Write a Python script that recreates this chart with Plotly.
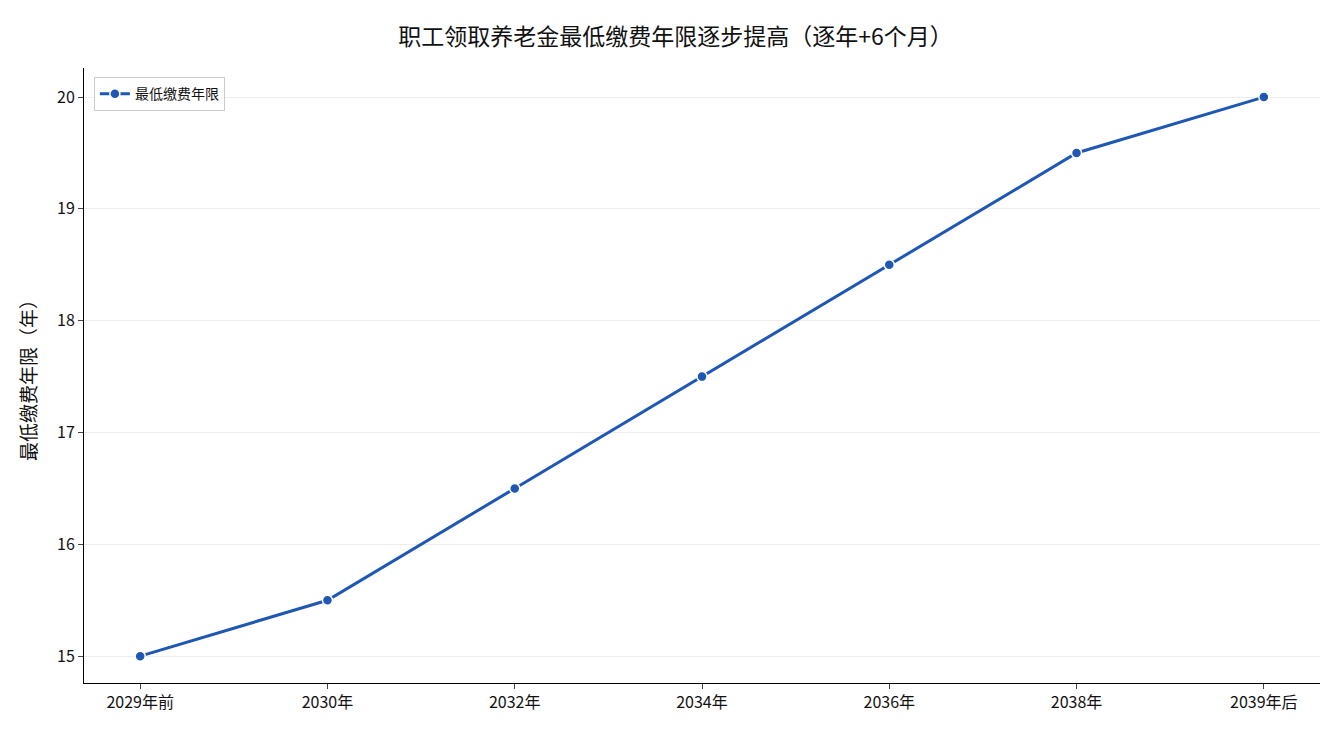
import plotly.graph_objects as go

years = ["2029年前", "2030年", "2032年", "2034年", "2036年", "2038年", "2039年后"]
min_years = [15, 15.5, 16.5, 17.5, 18.5, 19.5, 20]

fig = go.Figure()
fig.add_trace(go.Scatter(
    x=list(range(len(years))), y=min_years, mode="lines+markers", name="最低缴费年限",
    line=dict(color="#1f57b4", width=3),
    marker=dict(size=10, color="#1f57b4", line=dict(color="white", width=1.5)),
))
fig.update_layout(
    width=1335, height=735,
    font=dict(family="Noto Sans CJK SC", size=16, color="#111"),
    paper_bgcolor="white", plot_bgcolor="white",
    title=dict(text="职工领取养老金最低缴费年限逐步提高（逐年+6个月）", x=0.5, y=0.972,
               xanchor="center", font=dict(size=23)),
    margin=dict(l=76, r=23, t=60, b=60),
    showlegend=True,
    legend=dict(x=0.008, y=0.985, xanchor="left", yanchor="top", bgcolor="white",
                bordercolor="#ccc", borderwidth=1, font=dict(size=14)),
)
fig.update_xaxes(tickvals=list(range(len(years))), ticktext=years, range=[-0.3, 6.3],
                 showline=True, linecolor="black", ticks="outside", showgrid=False, zeroline=False)
fig.update_yaxes(title_text="最低缴费年限（年）", range=[14.76, 20.26], dtick=1,
                 showline=True, linecolor="black", ticks="outside",
                 gridcolor="#eeeeee", zeroline=False)
fig.write_html("out.html")
